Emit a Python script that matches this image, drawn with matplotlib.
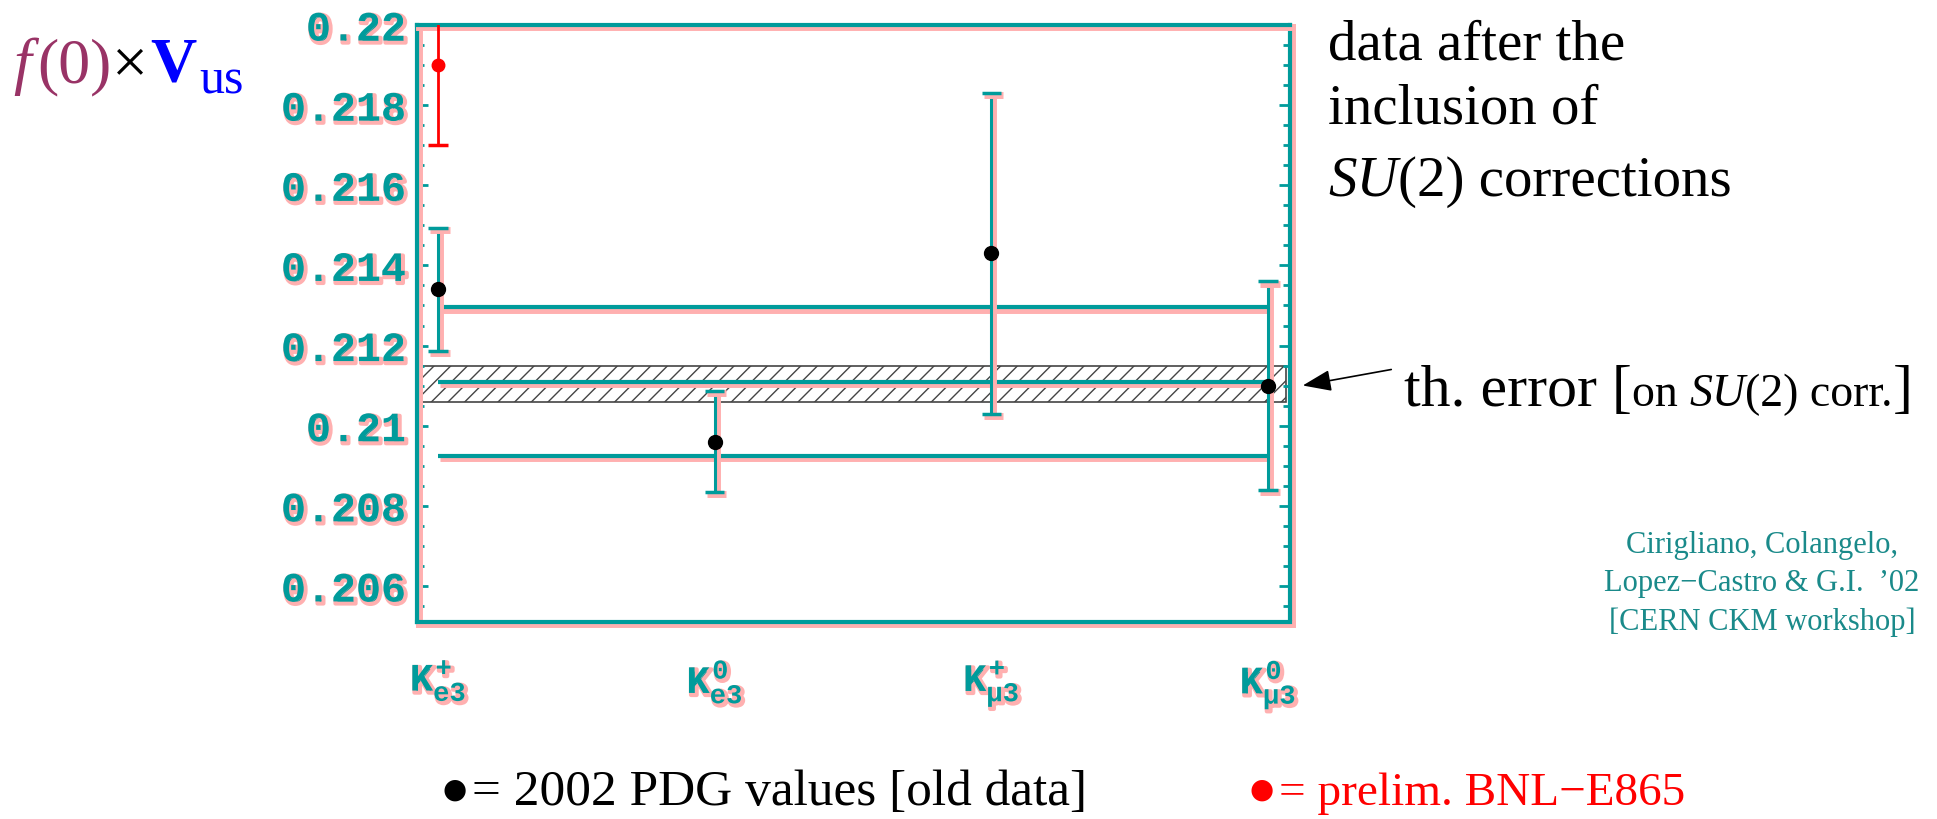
import numpy as np
import matplotlib.pyplot as plt
import matplotlib.patheffects as pe
import matplotlib.transforms as mtransforms
from matplotlib.ticker import FixedLocator, MultipleLocator

plt.rcParams['mathtext.fontset'] = 'custom'
plt.rcParams['mathtext.rm'] = 'Liberation Mono:bold'
plt.rcParams['mathtext.it'] = 'Liberation Mono:bold'
plt.rcParams['mathtext.bf'] = 'Liberation Mono:bold'
plt.rcParams['hatch.linewidth'] = 1.0

teal = '#009b9b'
pink = '#ffb0b0'

# channels and values
xpos = [1, 2, 3, 4]
channels = [r'$K^{+}_{e3}$', r'$K^{0}_{e3}$', r'$K^{+}_{\mu 3}$', r'$K^{0}_{\mu 3}$']
pdg_val = [0.2134, 0.2096, 0.2143, 0.2110]
pdg_err = [0.00153, 0.00126, 0.0040, 0.0026]
e865_x = [1]
e865_val = [0.2190]
e865_err = [0.0020]
avg_val = 0.2111
avg_err = 0.00185
th_band = [0.2106, 0.21148]
yticks = [0.206, 0.208, 0.21, 0.212, 0.214, 0.216, 0.218, 0.22]
ytick_labels = ['0.206', '0.208', '0.21', '0.212', '0.214', '0.216', '0.218', '0.22']

W, H = 1937, 820
fig = plt.figure(figsize=(W / 100, H / 100), dpi=100)
ax = fig.add_axes([417 / W, 1 - 623 / H, (1290 - 417) / W, (623 - 26) / H])

shadow = [pe.Stroke(offset=(1.5, -1.5), linewidth=5, foreground=pink), pe.Normal()]

ax.axhspan(th_band[0], th_band[1], xmin=0, xmax=0.995, facecolor='white',
           edgecolor='#444444', hatch='//', lw=1.2, zorder=1)

hl = ax.hlines([avg_val + avg_err, avg_val, avg_val - avg_err], xpos[0], xpos[-1],
               color=teal, lw=3, zorder=2)
hl.set_path_effects(shadow)

eb = ax.errorbar(xpos, pdg_val, yerr=pdg_err, fmt='o', color='black', ecolor=teal,
                 elinewidth=2.2, capsize=7, capthick=2.5, ms=10, zorder=3)
for c in eb[1]:
    c.set_path_effects(shadow)
for c in eb[2]:
    c.set_path_effects(shadow)

er = ax.errorbar(e865_x, e865_val, yerr=e865_err, fmt='o', color='red', ecolor='red',
                 elinewidth=2, capsize=7, capthick=2.5, ms=9, zorder=4)

ax.set_xlim(0.924, 4.08)
ax.set_ylim(0.2051, 0.22)

ax.yaxis.set_major_locator(FixedLocator(yticks))
ax.set_yticklabels(ytick_labels)
ax.yaxis.set_minor_locator(MultipleLocator(0.0005))
ax.tick_params(axis='y', which='both', direction='in', right=True, color=teal,
               width=2, labelcolor=teal, labelsize=30, pad=8)
ax.tick_params(axis='y', which='major', length=8)
ax.tick_params(axis='y', which='minor', length=5)
for lab in ax.get_yticklabels():
    lab.set_fontfamily('Liberation Mono')
    lab.set_fontweight('bold')
    lab.set_path_effects([pe.Stroke(offset=(1.5, -1.5), linewidth=3, foreground=pink), pe.Normal()])

ax.set_xticks(xpos)
ax.set_xticklabels(channels)
ax.tick_params(axis='x', length=0, pad=26, labelcolor=teal, labelsize=28)
for lab in ax.get_xticklabels():
    lab.set_path_effects([pe.Stroke(offset=(1.5, -1.5), linewidth=3, foreground=pink), pe.Normal()])

for sp in ax.spines.values():
    sp.set_color(teal)
    sp.set_linewidth(3)
    sp.set_path_effects(shadow)

# text placed in image pixels
px = mtransforms.IdentityTransform()
rend = fig.canvas.get_renderer()


def chain(x, y, parts):
    # parts: (text, size, color, style, weight, dy, gap); y and dy measured downwards
    for s, size, col, style, weight, dy, gap in parts:
        t = fig.text(x, H - (y + dy), s, transform=px, fontsize=size, color=col,
                     fontstyle=style, fontweight=weight, family='Liberation Serif',
                     va='baseline', ha='left')
        bb = t.get_window_extent(renderer=rend)
        x = bb.x1 + gap


chain(13, 82, [('f', 46, '#993366', 'italic', 'normal', 0, 6),
               ('(0)', 46, '#993366', 'normal', 'normal', 0, 1),
               ('\u00d7', 46, 'black', 'normal', 'normal', 0, 2),
               ('V', 46, 'blue', 'normal', 'bold', 0, 3),
               ('us', 36, 'blue', 'normal', 'normal', 12, 0)])

chain(1328, 60, [('data after the', 41, 'black', 'normal', 'normal', 0, 0)])
chain(1328, 124, [('inclusion of', 41, 'black', 'normal', 'normal', 0, 0)])
chain(1328, 196, [('SU', 41, 'black', 'italic', 'normal', 0, 0),
                  ('(2) corrections', 41, 'black', 'normal', 'normal', 0, 0)])

chain(1404, 406, [('th. error ', 43, 'black', 'normal', 'normal', 0, 0),
                  ('[', 43, 'black', 'normal', 'normal', 0, 0),
                  ('on ', 33, 'black', 'normal', 'normal', 0, 0),
                  ('SU', 33, 'black', 'italic', 'normal', 0, 0),
                  ('(2) corr.', 33, 'black', 'normal', 'normal', 0, 0),
                  (']', 43, 'black', 'normal', 'normal', 0, 0)])

fig.text(1762, H - 584, 'Cirigliano, Colangelo,\nLopez\u2212Castro & G.I.  \u201902\n[CERN CKM workshop]',
         transform=px, fontsize=22, color='#1a8a8a', family='Liberation Serif',
         ha='center', va='center', linespacing=1.4)

ax.annotate('', xy=(1300, H - 387), xycoords='figure pixels',
            xytext=(1394, H - 370), textcoords='figure pixels',
            arrowprops=dict(arrowstyle='-|>,head_length=0.8,head_width=0.3',
                            color='black', lw=1.2, mutation_scale=22))

fig.text(455, H - 790, '\u25cf', transform=px, fontsize=20, color='black',
         family='DejaVu Sans', ha='center', va='center')
chain(472, 805, [('= 2002 PDG values [old data]', 37, 'black', 'normal', 'normal', 0, 0)])
fig.text(1262, H - 790, '\u25cf', transform=px, fontsize=20, color='red',
         family='DejaVu Sans', ha='center', va='center')
chain(1279, 805, [('= prelim. BNL\u2212E865', 34, 'red', 'normal', 'normal', 0, 0)])

fig.savefig('out.png', dpi=100)
